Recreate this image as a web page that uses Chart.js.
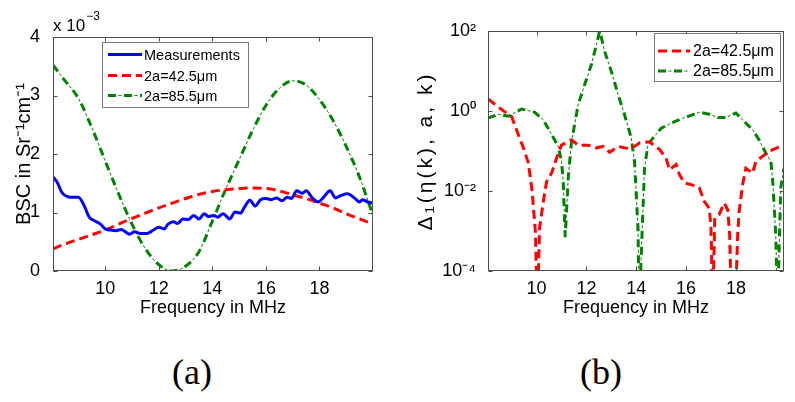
<!DOCTYPE html>
<html>
<head>
<meta charset="utf-8">
<script src="https://cdn.jsdelivr.net/npm/chart.js@4/dist/chart.umd.min.js"></script>
<style>
html,body{margin:0;padding:0;background:#fff;}
#wrap{position:relative;width:795px;height:402px;overflow:hidden;background:#fff;}
canvas{position:absolute;top:0;}
#ca{left:0;}
#cb{left:400px;}
.cap{position:absolute;top:372px;width:100px;margin-left:-50px;transform:translateY(-50%);text-align:center;
 font-family:"Liberation Serif","Times New Roman",serif;font-size:36px;line-height:1;color:#000;}
</style>
</head>
<body>
<div id="wrap">
<canvas id="ca" width="400" height="330"></canvas>
<canvas id="cb" width="395" height="330"></canvas>
<div class="cap" style="left:192px">(a)</div>
<div class="cap" style="left:601px">(b)</div>
</div>
<script>
// ---------- data ----------
const seriesNames = ['Measurements', '2a=42.5μm', '2a=85.5μm'];

// (a) BSC (x 10^-3) vs frequency
const freqMeas = [8.05,8.2,8.4,8.6,8.8,9.0,9.2,9.4,9.6,9.8,10.0,10.2,10.4,10.6,10.75,10.9,11.1,11.3,11.55,11.8,12.0,12.2,12.35,12.55,12.7,12.9,13.1,13.3,13.5,13.7,13.85,14.05,14.2,14.4,14.65,14.85,15.05,15.2,15.4,15.6,15.8,16.0,16.2,16.4,16.6,16.8,16.95,17.15,17.35,17.5,17.75,17.95,18.15,18.4,18.6,18.8,19.05,19.3,19.5,19.6,19.8,20.0];
const bscMeas  = [1.61,1.52,1.33,1.27,1.26,1.26,1.13,0.92,0.86,0.81,0.72,0.70,0.69,0.71,0.67,0.63,0.67,0.64,0.64,0.70,0.75,0.72,0.80,0.84,0.81,0.89,0.88,0.95,0.89,0.98,0.93,0.95,0.92,0.98,0.89,1.01,0.99,1.09,1.21,1.11,1.22,1.24,1.22,1.25,1.20,1.26,1.24,1.37,1.33,1.37,1.24,1.18,1.26,1.37,1.25,1.29,1.32,1.25,1.18,1.22,1.18,1.16];
const freqModel = [8.05,8.5,9,9.5,10,10.5,11,11.5,12,12.5,13,13.5,14,14.5,15,15.5,16,16.5,17,17.5,18,18.5,19,19.5,20];
const bsc425 = [0.38,0.46,0.54,0.62,0.70,0.80,0.90,0.99,1.08,1.16,1.24,1.31,1.36,1.39,1.41,1.42,1.41,1.37,1.30,1.24,1.16,1.08,0.98,0.89,0.80];
const bsc855 = [3.52,3.25,2.95,2.45,1.88,1.32,0.80,0.38,0.11,0.00,0.08,0.33,0.85,1.40,1.90,2.40,2.83,3.12,3.25,3.18,2.93,2.58,2.13,1.60,0.95];

// (b) Delta_1 (log scale) vs frequency
const freqD425 = [8.05,8.5,9.0,9.2,9.45,9.67,9.82,9.95,10.03,10.12,10.27,10.4,10.6,10.8,11.0,11.4,11.67,12.07,12.4,12.67,12.93,13.27,13.67,13.93,14.13,14.53,14.93,15.2,15.33,15.6,15.73,15.93,16.27,16.53,16.73,16.93,17.0,17.07,17.15,17.33,17.53,17.67,17.75,17.82,17.97,18.07,18.13,18.27,18.4,18.67,18.8,19.07,19.33,19.6,19.93];
const delta425 = [2.0,1.2,0.72,0.33,0.13,0.05,0.01,0.001,0.00001,0.0012,0.0055,0.017,0.028,0.066,0.14,0.19,0.14,0.14,0.12,0.13,0.093,0.13,0.115,0.13,0.16,0.17,0.11,0.066,0.034,0.046,0.026,0.016,0.014,0.012,0.0055,0.0037,0.0012,0.00001,0.0021,0.0026,0.005,0.0034,0.0008,0.00001,0.00001,0.0008,0.0031,0.0145,0.037,0.028,0.055,0.074,0.098,0.117,0.14];
const freqD855 = [8.05,8.47,8.87,9.4,9.93,10.27,10.6,10.87,11.0,11.07,11.1,11.15,11.27,11.4,11.67,11.93,12.2,12.47,12.53,12.73,13.0,13.27,13.53,13.8,13.93,14.0,14.07,14.12,14.27,14.33,14.47,14.67,15.0,15.4,15.87,16.2,16.53,16.93,17.27,17.6,18.0,18.33,18.67,18.93,19.2,19.4,19.47,19.53,19.6,19.67,19.8,19.93];
const delta855 = [0.66,0.83,0.74,1.12,0.93,0.60,0.26,0.13,0.055,0.017,0.0046,0.0007,0.021,0.17,1.45,4.6,14.5,68,105,31,9.8,2.6,0.81,0.21,0.055,0.0081,0.0012,0.00001,0.0037,0.037,0.145,0.21,0.37,0.50,0.66,0.78,0.93,0.83,0.69,0.69,0.89,0.55,0.34,0.19,0.089,0.055,0.021,0.0046,0.0008,0.00001,0.012,0.037];

// ticks
const freqTicks = [10,12,14,16,18];
const bscTicks = [0,1,2,3,4];
const deltaTicks = [1e-4,1e-2,1,1e2];
const deltaTickLabels = ['10⁻⁴','10⁻²','10⁰','10²'];

// ---------- helpers ----------
const pairs = (xs, ys) => xs.map((x, i) => ({x: x, y: ys[i]}));
const FONT = "'Liberation Sans', Arial, Helvetica, sans-serif";
Chart.defaults.font.family = FONT;
Chart.defaults.color = '#000';

const AX = '#4d4d4d';
const BLUE = '#0000ff', RED = '#ff0000', GREEN = '#008000';

const framePlugin = {
  id: 'frame',
  afterDraw(chart, args, o) {
    const ctx = chart.ctx, a = chart.chartArea;
    const xs = chart.scales.x, ys = chart.scales.y;
    ctx.save();
    ctx.strokeStyle = AX; ctx.lineWidth = 1; ctx.setLineDash([]);
    const l = Math.round(a.left) + 0.5, r = Math.round(a.right) - 0.5,
          t = Math.round(a.top) + 0.5, b = Math.round(a.bottom) - 0.5;
    ctx.strokeRect(l, t, r - l, b - t);
    const L = 4;
    ctx.beginPath();
    xs.ticks.forEach(tk => {
      const px = Math.round(xs.getPixelForValue(tk.value)) + 0.5;
      ctx.moveTo(px, b); ctx.lineTo(px, b - L);
      ctx.moveTo(px, t); ctx.lineTo(px, t + L);
    });
    ys.ticks.forEach(tk => {
      const py = Math.round(ys.getPixelForValue(tk.value)) + 0.5;
      ctx.moveTo(l, py); ctx.lineTo(l + L, py);
      ctx.moveTo(r, py); ctx.lineTo(r - L, py);
    });
    ctx.stroke();

    if (o.legend) {
      const g = o.legend;
      ctx.fillStyle = '#fff';
      ctx.fillRect(g.box[0], g.box[1], g.box[2] - g.box[0], g.box[3] - g.box[1]);
      ctx.strokeStyle = '#7a7a7a'; ctx.lineWidth = 1;
      ctx.strokeRect(g.box[0] + 0.5, g.box[1] + 0.5, g.box[2] - g.box[0], g.box[3] - g.box[1]);
      g.entries.forEach((e, i) => {
        const y = g.rows[i];
        e.datasets.forEach(di => {
          const ds = chart.data.datasets[di];
          ctx.beginPath();
          ctx.setLineDash(ds.borderDash || []);
          ctx.lineDashOffset = ds.borderDashOffset || 0;
          ctx.lineWidth = ds.borderWidth;
          ctx.strokeStyle = ds.borderColor;
          ctx.moveTo(g.line[0], y); ctx.lineTo(g.line[1], y);
          ctx.stroke();
        });
        ctx.setLineDash([]);
        ctx.fillStyle = '#000';
        ctx.font = g.font + 'px ' + FONT;
        ctx.textAlign = 'left'; ctx.textBaseline = 'middle';
        ctx.fillText(seriesNames[e.name], g.textX, y + 1);
      });
    }
    if (o.exponent) {
      const ex = o.exponent;
      ctx.fillStyle = '#000';
      ctx.textAlign = 'left'; ctx.textBaseline = 'alphabetic';
      ctx.font = '17px ' + FONT;
      ctx.fillText(ex.base, ex.x, ex.y);
      const w = ctx.measureText(ex.base).width;
      ctx.font = '12px ' + FONT;
      ctx.fillText(ex.sup, ex.x + w + 1, ex.y - 11);
    }
    ctx.restore();
  }
};

function xScale(min, max) {
  return {
    type: 'linear', min: min, max: max,
    afterBuildTicks: s => { s.ticks = freqTicks.map(v => ({value: v})); },
    afterFit: s => { s.height = 48; },
    grid: {display: false}, border: {display: false},
    ticks: {padding: -1, font: {size: 18}, color: '#000', maxRotation: 0, autoSkip: false},
    title: {display: true, text: 'Frequency in MHz', font: {size: 18}, color: '#000', padding: {top: 0, bottom: 0}}
  };
}

const common = {
  responsive: false, animation: false, events: [],
  elements: {point: {radius: 0}},
  plugins: {legend: {display: false}, tooltip: {enabled: false}}
};

// ---------- chart (a) ----------
new Chart(document.getElementById('ca'), {
  type: 'line',
  data: {
    datasets: [
      {data: pairs(freqMeas, bscMeas), borderColor: BLUE, borderWidth: 3, cubicInterpolationMode: 'monotone', clip: 0},
      {data: pairs(freqModel, bsc425), borderColor: RED, borderWidth: 3, borderDash: [9, 5], cubicInterpolationMode: 'monotone', clip: 0},
      {data: pairs(freqModel, bsc855), borderColor: GREEN, borderWidth: 3, borderDash: [8, 8], cubicInterpolationMode: 'monotone', clip: 0},
      {data: pairs(freqModel, bsc855), borderColor: GREEN, borderWidth: 1, borderDash: [3, 13], borderDashOffset: 5.5, cubicInterpolationMode: 'monotone', clip: 0}
    ]
  },
  options: Object.assign({}, common, {
    layout: {padding: {left: 0, right: 27, top: 37, bottom: 11}},
    scales: {
      x: xScale(8.05, 20),
      y: {
        type: 'linear', min: 0, max: 4,
        afterBuildTicks: s => { s.ticks = bscTicks.map(v => ({value: v})); },
        afterFit: s => { s.width = 53; },
        grid: {display: false}, border: {display: false},
        ticks: {padding: 5, font: {size: 18}, color: '#000'},
        title: {display: true, text: 'BSC in Sr⁻¹cm⁻¹', font: {size: 20}, color: '#000', padding: {top: 12, bottom: 0}}
      }
    },
    plugins: Object.assign({}, common.plugins, {
      frame: {
        legend: {box: [102, 42, 248, 107], rows: [54.5, 75.5, 95.5], line: [108, 142], textX: 144, font: 14.5,
                 entries: [{name: 0, datasets: [0]}, {name: 1, datasets: [1]}, {name: 2, datasets: [2, 3]}]},
        exponent: {base: 'x 10', sup: '−3', x: 53, y: 31}
      }
    })
  }),
  plugins: [framePlugin]
});

// ---------- chart (b) ----------
new Chart(document.getElementById('cb'), {
  type: 'line',
  data: {
    datasets: [
      {data: pairs(freqD425, delta425), borderColor: RED, borderWidth: 3, borderDash: [9, 5], tension: 0, clip: 0},
      {data: pairs(freqD855, delta855), borderColor: GREEN, borderWidth: 3, borderDash: [8, 8], tension: 0, clip: 0},
      {data: pairs(freqD855, delta855), borderColor: GREEN, borderWidth: 1, borderDash: [3, 13], borderDashOffset: 5.5, tension: 0, clip: 0}
    ]
  },
  options: Object.assign({}, common, {
    layout: {padding: {left: 0, right: 11, top: 31, bottom: 11}},
    scales: {
      x: xScale(8.05, 19.93),
      y: {
        type: 'logarithmic', min: 1e-4, max: 1e2,
        afterBuildTicks: s => { s.ticks = deltaTicks.map(v => ({value: v, major: true})); },
        afterFit: s => {
          s.width = 88;
          if (!s._spaced) {
            const base = Object.getPrototypeOf(s).drawTitle;
            s.drawTitle = function () {
              const c = this.ctx; c.save(); c.letterSpacing = '3px'; base.call(this); c.restore();
            };
            s._spaced = true;
          }
        },
        grid: {display: false}, border: {display: false},
        ticks: {padding: 4, font: {size: 18}, color: '#000',
                callback: (v) => deltaTickLabels[deltaTicks.indexOf(v)]},
        title: {display: true, text: 'Δ₁(η(k), a, k)', font: {size: 21}, color: '#000', padding: {top: 14, bottom: 0}}
      }
    },
    plugins: Object.assign({}, common.plugins, {
      frame: {
        legend: {box: [254, 33, 380, 81], rows: [51, 71], line: [258, 290], textX: 293, font: 16,
                 entries: [{name: 1, datasets: [0]}, {name: 2, datasets: [1, 2]}]}
      }
    })
  }),
  plugins: [framePlugin]
});
</script>
</body>
</html>
